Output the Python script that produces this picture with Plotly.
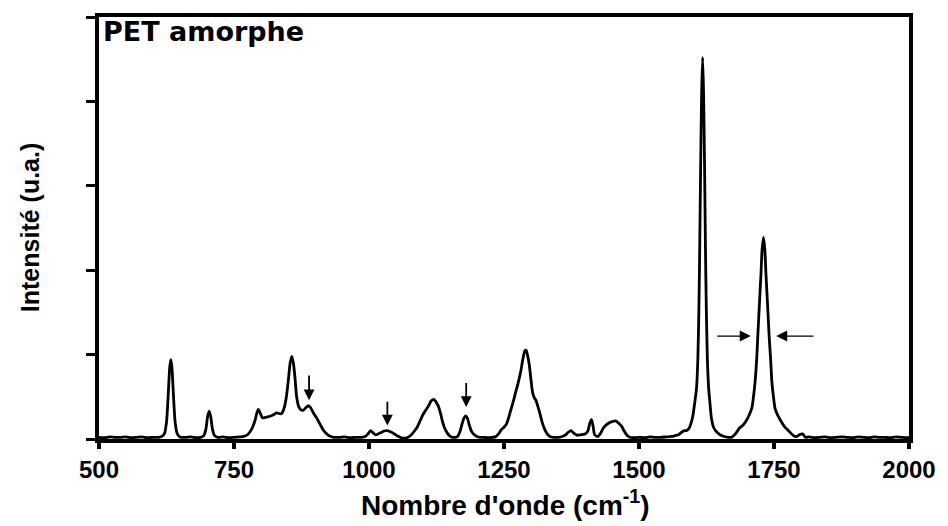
import plotly.graph_objects as go

# Raman spectrum of amorphous PET, read point by point
wavenumber = [
    500, 510, 520, 530, 540, 550, 560, 570, 580, 590, 600, 610, 616, 621, 625, 628, 631, 633, 635, 638,
    641, 645, 650, 660, 670, 680, 688, 694, 698, 701, 704, 707, 710, 714, 720, 730, 740, 750, 760, 768,
    775, 783, 789, 792, 795, 799, 803, 810, 817, 824, 829, 834, 838, 843, 847, 851, 854, 857, 860, 863,
    866, 870, 874, 878, 883, 888, 892, 897, 903, 909, 915, 921, 927, 935, 945, 955, 965, 975, 985, 993,
    998, 1003, 1008, 1013, 1020, 1028, 1034, 1040, 1047, 1053, 1060, 1068, 1075, 1081, 1086, 1090, 1095, 1100, 1105, 1110,
    1115, 1120, 1124, 1129, 1133, 1136, 1140, 1145, 1150, 1155, 1160, 1164, 1168, 1172, 1176, 1179, 1182, 1186, 1190, 1195,
    1200, 1205, 1212, 1220, 1228, 1234, 1240, 1245, 1250, 1254, 1258, 1262, 1267, 1271, 1276, 1281, 1285, 1289, 1291, 1294,
    1297, 1300, 1303, 1306, 1309, 1313, 1317, 1321, 1325, 1330, 1335, 1342, 1351, 1358, 1364, 1369, 1374, 1379, 1385, 1392,
    1400, 1405, 1409, 1412, 1415, 1418, 1424, 1429, 1434, 1440, 1446, 1452, 1457, 1462, 1468, 1472, 1477, 1483, 1490, 1500,
    1510, 1520, 1530, 1540, 1550, 1560, 1567, 1573, 1579, 1584, 1588, 1592, 1597, 1600, 1603, 1606.5, 1609, 1611, 1612.5, 1614,
    1616, 1617.8, 1619.6, 1621.6, 1623, 1624.6, 1626.6, 1629, 1631.5, 1634, 1638, 1643, 1650, 1658, 1665, 1671, 1677, 1682, 1686, 1692,
    1698, 1703, 1709, 1712, 1715, 1718, 1720, 1723, 1726, 1728, 1730.5, 1733, 1735, 1738, 1741, 1744, 1746, 1749, 1752, 1757,
    1763, 1769, 1775, 1781, 1787, 1792, 1797, 1803, 1808, 1815, 1825, 1835, 1845, 1855, 1865, 1875, 1885, 1895, 1905, 1915,
    1925, 1935, 1945, 1955, 1965, 1975, 1985, 1995, 2000,
]
intensity = [
    0.02, 0.015, 0.025, 0.02, 0.02, 0.025, 0.015, 0.02, 0.025, 0.015, 0.02, 0.02, 0.03, 0.06, 0.2, 0.5, 0.85, 0.94, 0.85, 0.5,
    0.2, 0.06, 0.025, 0.02, 0.025, 0.015, 0.02, 0.04, 0.12, 0.26, 0.33, 0.26, 0.12, 0.04, 0.02, 0.025, 0.015, 0.02, 0.025, 0.03,
    0.05, 0.12, 0.22, 0.3, 0.35, 0.3, 0.25, 0.26, 0.27, 0.29, 0.31, 0.30, 0.30, 0.37, 0.5, 0.72, 0.9, 0.98, 0.9, 0.72,
    0.50, 0.38, 0.345, 0.34, 0.37, 0.395, 0.37, 0.31, 0.25, 0.18, 0.11, 0.065, 0.035, 0.02, 0.02, 0.025, 0.015, 0.02, 0.02, 0.03,
    0.06, 0.10, 0.07, 0.05, 0.07, 0.095, 0.10, 0.085, 0.06, 0.035, 0.015, 0.01, 0.03, 0.07, 0.11, 0.15, 0.22, 0.29, 0.34, 0.39,
    0.45, 0.47, 0.44, 0.38, 0.29, 0.21, 0.13, 0.07, 0.035, 0.02, 0.02, 0.03, 0.08, 0.17, 0.25, 0.275, 0.25, 0.16, 0.09, 0.05,
    0.03, 0.02, 0.02, 0.015, 0.02, 0.025, 0.06, 0.11, 0.14, 0.17, 0.24, 0.33, 0.44, 0.54, 0.66, 0.80, 0.95, 1.05, 1.05, 0.98,
    0.87, 0.70, 0.55, 0.49, 0.46, 0.38, 0.29, 0.19, 0.12, 0.06, 0.03, 0.02, 0.02, 0.03, 0.05, 0.08, 0.10, 0.07, 0.045, 0.05,
    0.06, 0.09, 0.19, 0.23, 0.15, 0.05, 0.03, 0.07, 0.13, 0.17, 0.195, 0.21, 0.215, 0.19, 0.15, 0.10, 0.05, 0.02, 0.015, 0.02,
    0.015, 0.025, 0.02, 0.02, 0.025, 0.03, 0.04, 0.05, 0.08, 0.10, 0.10, 0.12, 0.2, 0.285, 0.42, 0.6, 0.95, 1.575, 2.3, 3.14,
    4.1, 4.52, 4.1, 3.14, 2.3, 1.575, 0.95, 0.6, 0.42, 0.25, 0.14, 0.09, 0.05, 0.03, 0.02, 0.02, 0.05, 0.09, 0.13, 0.16,
    0.21, 0.27, 0.37, 0.5, 0.68, 0.95, 1.22, 1.6, 1.97, 2.25, 2.39, 2.25, 1.97, 1.6, 1.22, 0.92, 0.68, 0.5, 0.36, 0.28,
    0.21, 0.15, 0.11, 0.07, 0.035, 0.03, 0.05, 0.06, 0.02, 0.025, 0.015, 0.02, 0.025, 0.015, 0.02, 0.025, 0.02, 0.015, 0.025, 0.02,
    0.015, 0.025, 0.02, 0.02, 0.015, 0.025, 0.02, 0.015, 0.02,
]

# Vertical markers above weak bands: wavenumber, tail height, head height
marker_x = [889, 1034, 1180]
marker_tail = [0.77, 0.46, 0.68]
marker_head = [0.46, 0.16, 0.38]

# Half-width markers on the C=O band, at half height
fwhm_y = 1.22
fwhm_heads = [1707, 1754]
fwhm_tails = [1642, 1826]

x_ticks = [500, 750, 1000, 1250, 1500, 1750, 2000]
y_ticks = [0, 1, 2, 3, 4, 5]

W, H = 948, 526
ML, MR, MT, MB = 99, 37, 17, 87
PW, PH = W - ML - MR, H - MT - MB


def px_to_paper(px, py):
    return (px - ML) / PW, (H - MB - py) / PH


fig = go.Figure()
fig.add_trace(go.Scatter(
    x=wavenumber, y=intensity, mode="lines",
    line=dict(color="black", width=2.8, shape="spline", smoothing=0.7),
    hoverinfo="skip", showlegend=False,
))

annotations = []
for xv, t, h in zip(marker_x, marker_tail, marker_head):
    annotations.append(dict(
        x=xv, y=h, ax=xv, ay=t, xref="x", yref="y", axref="x", ayref="y",
        text="", showarrow=True, arrowhead=2, arrowsize=1.2, arrowwidth=1.8,
        arrowcolor="black", standoff=0,
    ))
for hx, tx in zip(fwhm_heads, fwhm_tails):
    annotations.append(dict(
        x=hx, y=fwhm_y, ax=tx, ay=fwhm_y, xref="x", yref="y", axref="x", ayref="y",
        text="", showarrow=True, arrowhead=2, arrowsize=1.7, arrowwidth=1.3,
        arrowcolor="black", standoff=0,
    ))

bx, by = px_to_paper(101, 32)
annotations.append(dict(
    x=bx, y=by, xref="paper", yref="paper", xanchor="left", yanchor="middle",
    text="PET amorphe", showarrow=False,
    font=dict(family="DejaVu Sans", size=27, color="black", weight="bold"),
))
tx_, ty_ = px_to_paper(507, 503)
annotations.append(dict(
    x=tx_, y=ty_, xref="paper", yref="paper", xanchor="center", yanchor="middle",
    text="Nombre d'onde (cm<sup>-1</sup>)", showarrow=False,
    font=dict(family="Liberation Sans", size=28, color="black", weight="bold"),
))
lx, ly = px_to_paper(30, 228)
annotations.append(dict(
    x=lx, y=ly, xref="paper", yref="paper", xanchor="center", yanchor="middle",
    text="Intensité (u.a.)", showarrow=False, textangle=-90,
    font=dict(family="Liberation Sans", size=25, color="black", weight="bold"),
))

fig.update_layout(
    width=W, height=H,
    margin=dict(l=ML, r=MR, t=MT, b=MB, pad=0),
    paper_bgcolor="white", plot_bgcolor="white",
    annotations=annotations,
    xaxis=dict(
        range=[500, 2000], tickvals=x_ticks, ticks="outside", ticklen=6, tickwidth=4,
        tickcolor="black", showline=True, linewidth=4, linecolor="black", mirror=True,
        showgrid=False, zeroline=False,
        tickfont=dict(family="Liberation Sans", size=24, color="black", weight="bold"),
    ),
    yaxis=dict(
        range=[0, 5], tickvals=y_ticks, ticks="outside", ticklen=9, tickwidth=3,
        tickcolor="black", showline=True, linewidth=4, linecolor="black", mirror=True,
        showgrid=False, zeroline=False, showticklabels=False,
    ),
)

fig.write_html("out.html")
